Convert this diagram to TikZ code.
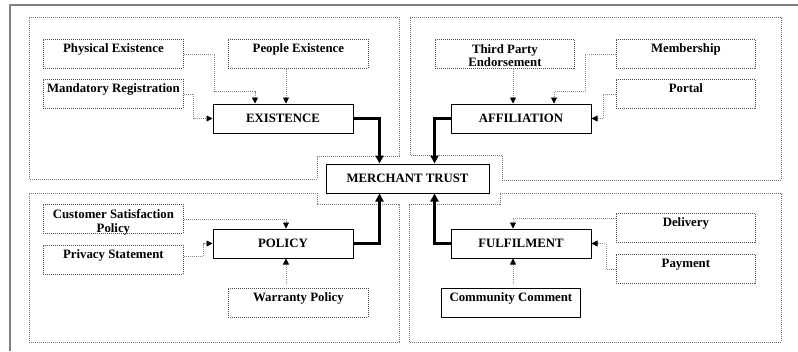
\documentclass[tikz,border=0pt]{standalone}
\usepackage{fontspec}
\setmainfont{Liberation Serif}
\usetikzlibrary{arrows.meta}
\begin{document}
\begin{tikzpicture}[x=1pt,y=-1pt,
  every node/.style={font=\bfseries\fontsize{12.8}{13.5}\selectfont},
  mainbox/.style={draw=black,line width=1pt,minimum width=140pt,minimum height=29pt,inner sep=0pt},
  subbox/.style={draw=black!70,line width=0.8pt,dash pattern=on 1pt off 1pt,minimum width=140pt,minimum height=29pt,inner sep=0pt,anchor=north west},
  solidbox/.style={draw=black,line width=0.8pt,minimum width=140pt,minimum height=29pt,inner sep=0pt,anchor=north west},
  quad/.style={draw=black!55,line width=0.8pt,dash pattern=on 1pt off 1pt},
  lbl/.style={inner sep=0pt,anchor=base},
  lbltwo/.style={inner sep=0pt,anchor=north,align=center},
  conn/.style={draw=black!45,line width=0.8pt,dash pattern=on 1pt off 1pt,-{Triangle[length=6pt,width=6pt,color=black]}},
  thick arrow/.style={draw=black,line width=2.6pt,-{Triangle[length=8pt,width=8pt]}}
]
\fill[white] (0,0) rectangle (798,351);
\useasboundingbox (0,0) rectangle (798,351);
% outer frame
\draw[black!50,line width=2pt] (10,351) -- (10,5) -- (798,5);
% quadrants
\draw[quad] (29,17) -- (399,17) -- (399,156) -- (317,156) -- (317,179) -- (29,179) -- cycle;
\draw[quad] (410,17) -- (781,17) -- (781,180) -- (502,180) -- (502,155) -- (410,155) -- cycle;
\draw[quad] (29,193) -- (317,193) -- (317,204) -- (399,204) -- (399,342) -- (29,342) -- cycle;
\draw[quad] (500,193) -- (781,193) -- (781,342) -- (409,342) -- (409,204) -- (500,204) -- cycle;
% main boxes
\node[mainbox] (ex) at (283,118.5) {EXISTENCE};
\node[mainbox] (af) at (521,118.5) {AFFILIATION};
\node[mainbox] (po) at (283,243.5) {POLICY};
\node[mainbox] (fu) at (521,243.5) {FULFILMENT};
\node[mainbox,minimum width=163pt] (mt) at (407.5,178.5) {MERCHANT TRUST};
% sub boxes
\node[subbox] (pe) at (43,39) {};
\node[lbl] (pet) at ([yshift=-13pt]pe.north) {Physical Existence};
\node[subbox] (pp) at (228,39) {};
\node[lbl] (ppt) at ([yshift=-13pt]pp.north) {People Existence};
\node[subbox] (mr) at (43,79) {};
\node[lbl] (mrt) at ([yshift=-13pt]mr.north) {Mandatory Registration};
\node[subbox,minimum width=139pt] (tp) at (435,39) {};
\node[lbltwo] (tpt) at ([yshift=-5pt]tp.north) {Third Party\\Endorsement};
\node[subbox,minimum width=139pt] (mb) at (616,39) {};
\node[lbl] (mbt) at ([yshift=-13pt]mb.north) {Membership};
\node[subbox,minimum width=139pt] (pt) at (616,79) {};
\node[lbl] (ptt) at ([yshift=-13pt]pt.north) {Portal};
\node[subbox] (cs) at (43,204) {};
\node[lbltwo] (cst) at ([yshift=-5.3pt]cs.north) {Customer Satisfaction\\Policy};
\node[subbox] (ps) at (43,245) {};
\node[lbl] (pst) at ([yshift=-13pt]ps.north) {Privacy Statement};
\node[subbox] (wp) at (228,288) {};
\node[lbl] (wpt) at ([yshift=-13pt]wp.north) {Warranty Policy};
\node[subbox,minimum width=139pt] (dl) at (616,213) {};
\node[lbl] (dlt) at ([yshift=-13pt]dl.north) {Delivery};
\node[subbox,minimum width=139pt] (pm) at (616,254) {};
\node[lbl] (pmt) at ([yshift=-13pt]pm.north) {Payment};
\node[solidbox,minimum width=139pt] (cc) at (441,288) {};
\node[lbl] (cct) at ([yshift=-13pt]cc.north) {Community Comment};
% dotted connectors
\draw[conn] (pe.east) -- ++(31,0) |- ([xshift=-28pt,yshift=12pt]ex.north) -- ([xshift=-28pt]ex.north);
\draw[conn] ([xshift=3pt]ex.north |- pp.south) -- ([xshift=3pt]ex.north);
\draw[conn] (mr.east) -- ++(10,0) |- (ex.west);
\draw[conn] ([xshift=-8pt]af.north |- tp.south) -- ([xshift=-8pt]af.north);
\draw[conn] (mb.west) -- ++(-31,0) |- ([xshift=33pt,yshift=12pt]af.north) -- ([xshift=33pt]af.north);
\draw[conn] (pt.west) -- ++(-13,0) |- (af.east);
\draw[conn] (cs.east) -| ([xshift=3pt]po.north);
\draw[conn] ([yshift=4pt]ps.east) -- ++(20,0) |- (po.west);
\draw[conn,shorten <=4pt] ([xshift=3pt]po.south |- wp.north) -- ([xshift=3pt]po.south);
\draw[conn] ([yshift=10pt]dl.west) -| ([xshift=-8pt]fu.north);
\draw[conn] (pm.west) -- ++(-10,0) |- (fu.east);
\draw[conn,shorten <=4pt] ([xshift=-8pt]fu.south |- cc.north) -- ([xshift=-8pt]fu.south);
% thick connectors
\draw[thick arrow] (ex.east) -| ([xshift=-28pt]mt.north);
\draw[thick arrow] (af.west) -| ([xshift=27pt]mt.north);
\draw[thick arrow] (po.east) -| ([xshift=-28pt]mt.south);
\draw[thick arrow] (fu.west) -| ([xshift=27pt]mt.south);
\end{tikzpicture}
\end{document}
